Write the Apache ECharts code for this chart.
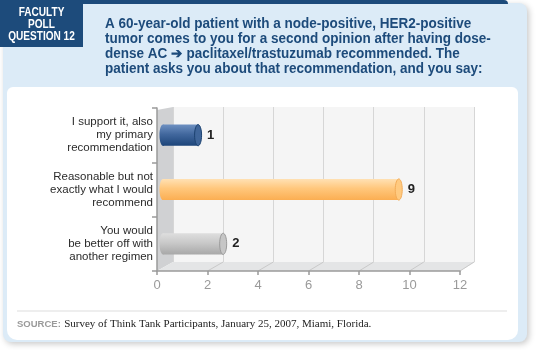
<!DOCTYPE html>
<html>
<head>
<meta charset="utf-8">
<script src="https://cdn.jsdelivr.net/npm/echarts@6/dist/echarts.min.js"></script>
<style>
  html, body { margin: 0; padding: 0; background: #fff; }
  #chart { width: 540px; height: 350px; }
</style>
</head>
<body>
<div id="chart"></div>
<script>
// 投票数据
const categories = [
  'I support it, also\nmy primary\nrecommendation',
  'Reasonable but not\nexactly what I would\nrecommend',
  'You would\nbe better off with\nanother regimen'
];
const responses = [1, 9, 2];
const axisMin = 0;
const axisMax = 12;
const axisStep = 2;

const titleLines = [
  'A 60-year-old patient with a node-positive, HER2-positive',
  'tumor comes to you for a second opinion after having dose-',
  'dense AC \u2794 paclitaxel/trastuzumab recommended. The',
  'patient asks you about that recommendation, and you say:'
];
const sourceText = 'Survey of Think Tank Participants, January 25, 2007, Miami, Florida.';

// 柱子配色：上、中、下、端面、描边
const palette = [
  ['#6d90c1', '#42689e', '#1d457a', '#3f6599', '#1c4271'],
  ['#ffe1b4', '#ffc77c', '#fbae52', '#ffca80', '#f3ac58'],
  ['#dedede', '#c9c9c9', '#a8a8a8', '#c6c6c6', '#9a9a9a']
];

const navy = '#1d4b7b';
const chart = echarts.init(document.getElementById('chart'), null, { renderer: 'canvas' });

// 布局（前面板与后墙）
const front = { left: 157, top: 108, right: 460, bottom: 271 };
const back = { left: 173, top: 107, right: 474, bottom: 262 };

function renderBar(params, api) {
  const v = api.value(0);
  const cat = api.value(1);
  const start = api.coord([0, cat]);
  const end = api.coord([v, cat]);
  const h = api.size([0, 1])[1] * 0.39;
  const cy = start[1];
  const x0 = start[0] - 10;
  const x1 = end[0];
  const c = palette[params.dataIndex];
  const grad = new echarts.graphic.LinearGradient(0, 0, 0, 1, [
    { offset: 0, color: c[0] },
    { offset: 0.45, color: c[1] },
    { offset: 1, color: c[2] }
  ]);
  return {
    type: 'group',
    children: [
      { type: 'ellipse', shape: { cx: x0, cy: cy, rx: 3.5, ry: h / 2 }, style: { fill: grad } },
      { type: 'rect', shape: { x: x0, y: cy - h / 2, width: x1 - x0, height: h }, style: { fill: grad } },
      { type: 'ellipse', shape: { cx: x1, cy: cy, rx: 3.5, ry: h / 2 }, style: { fill: c[3], stroke: c[4], lineWidth: 1 } },
      {
        type: 'text', x: x1 + 9, y: cy,
        style: { text: String(v), fill: '#222', font: 'bold 13px "Liberation Sans", Arial, sans-serif', verticalAlign: 'middle' }
      }
    ]
  };
}

const option = {
  animation: false,
  grid: [
    { left: front.left, top: front.top, width: front.right - front.left, height: front.bottom - front.top },
    { left: back.left, top: back.top, width: back.right - back.left, height: back.bottom - back.top,
      show: true, backgroundColor: '#f5f5f5', borderWidth: 0, z: 1 },
    { left: back.left, top: front.top, width: back.right - back.left, height: front.bottom - front.top }
  ],
  xAxis: [
    {
      gridIndex: 0, type: 'value', min: axisMin, max: axisMax, interval: axisStep, z: 3,
      axisLine: { show: true, lineStyle: { color: '#9a9a9a', width: 1.5 } },
      axisTick: { show: true, length: 4, lineStyle: { color: '#9a9a9a', width: 1.5 } },
      axisLabel: { color: '#9a9a9a', fontSize: 13, fontFamily: '"Liberation Sans", Arial, sans-serif', margin: 8 },
      splitLine: { show: false }
    },
    {
      gridIndex: 1, type: 'value', min: axisMin, max: axisMax, interval: axisStep, z: 2,
      axisLine: { show: false }, axisTick: { show: false }, axisLabel: { show: false },
      splitLine: { show: true, lineStyle: { color: '#d6d6d6', width: 1 } }
    },
    {
      gridIndex: 2, type: 'value', min: axisMin, max: axisMax, show: false
    }
  ],
  yAxis: [
    {
      gridIndex: 0, type: 'category', data: categories, inverse: true, z: 3,
      axisLine: { show: true, lineStyle: { color: '#9a9a9a', width: 1.5 } },
      axisTick: { show: true, length: 5, lineStyle: { color: '#9a9a9a', width: 1.5 } },
      axisLabel: {
        color: '#2b2b2b', fontSize: 11.5, lineHeight: 13, margin: 4, align: 'right',
        fontFamily: '"Liberation Sans", Arial, sans-serif'
      }
    },
    {
      gridIndex: 1, type: 'value', show: false
    },
    {
      gridIndex: 2, type: 'category', data: categories, inverse: true, show: false
    }
  ],
  series: [
    {
      type: 'custom',
      xAxisIndex: 2,
      yAxisIndex: 2,
      z: 5,
      renderItem: renderBar,
      encode: { x: 0, y: 1 },
      data: responses.map((v, i) => [v, i])
    }
  ]
};

chart.setOption(option);

// 3D 框：地板斜线对应刻度
const floorLines = [];
for (let v = axisMin + axisStep; v <= axisMax; v += axisStep) {
  const xf = chart.convertToPixel({ xAxisIndex: 0 }, v);
  const xb = chart.convertToPixel({ xAxisIndex: 1 }, v);
  floorLines.push({
    type: 'line', z: 1,
    shape: { x1: xf, y1: front.bottom, x2: xb, y2: back.bottom },
    style: { stroke: '#c9c9c9', lineWidth: 1 }
  });
}

chart.setOption({
  graphic: [
    // 外框
    { type: 'rect', z: 0, shape: { x: 3, y: 3, width: 524, height: 339, r: [0, 8, 8, 8] },
      style: { fill: '#dcebf7', shadowBlur: 6, shadowColor: 'rgba(0,0,0,0.22)', shadowOffsetX: 2, shadowOffsetY: 2 } },
    { type: 'rect', z: 0, shape: { x: 83, y: 0, width: 425, height: 4, r: [0, 4, 0, 0] }, style: { fill: navy } },
    { type: 'rect', z: 0, shape: { x: 7, y: 87, width: 511, height: 253, r: [6, 6, 10, 10] }, style: { fill: '#fff' } },
    // 标签框
    { type: 'rect', z: 1, shape: { x: 0, y: 0, width: 83, height: 47 }, style: { fill: navy } },
    { type: 'text', z: 1, x: 41.5, y: 7, scaleX: 0.84,
      style: { text: 'FACULTY\nPOLL\nQUESTION 12', fill: '#fff', align: 'center', lineHeight: 12,
        font: 'bold 12px "Liberation Sans", Arial, sans-serif' } },
    // 标题
    { type: 'text', z: 1, x: 105, y: 17, scaleX: 0.965,
      style: { text: titleLines.join('\n'), fill: navy, lineHeight: 15,
        font: 'bold 14px "Liberation Sans", Arial, sans-serif' } },
    // 左墙和地板
    { type: 'polygon', z: 1,
      shape: { points: [[front.left, 110], [back.left, back.top], [back.left, back.bottom], [front.left, front.bottom]] },
      style: { fill: '#d0d1d3' } },
    { type: 'polygon', z: 1,
      shape: { points: [[front.left, front.bottom], [front.right, front.bottom], [back.right + 1, back.bottom], [back.left, back.bottom]] },
      style: { fill: '#e4e5e6' } },
    ...floorLines,
    // 来源
    { type: 'line', z: 1, shape: { x1: 17, y1: 311, x2: 507, y2: 311 }, style: { stroke: '#dddddd', lineWidth: 1 } },
    { type: 'text', z: 1, x: 17, y: 324,
      style: {
        text: '{a|SOURCE:} {b|' + sourceText + '}',
        verticalAlign: 'middle',
        rich: {
          a: { fill: '#9a9a9a', font: 'bold 9.5px "Liberation Sans", Arial, sans-serif' },
          b: { fill: '#222', font: '11px "Liberation Serif", "Times New Roman", serif' }
        }
      } }
  ]
});
</script>
</body>
</html>
